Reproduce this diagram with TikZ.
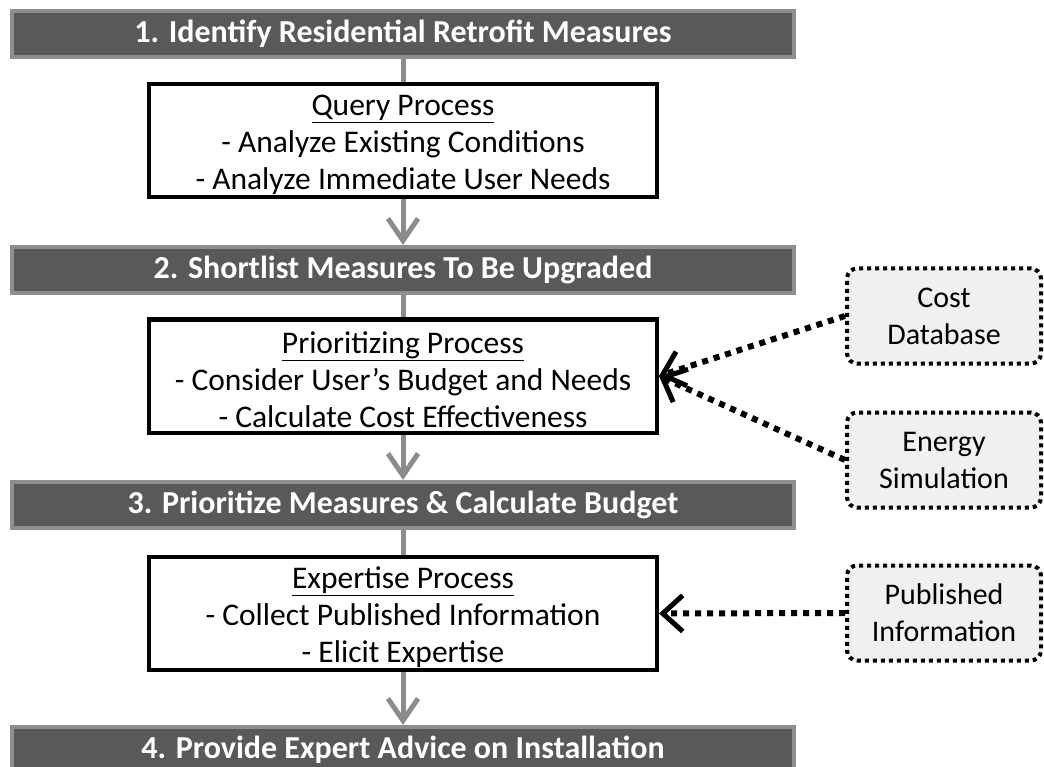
\documentclass[tikz,border=0pt]{standalone}
\usepackage{fontspec}
\setmainfont{Carlito}
\usetikzlibrary{arrows.meta}
\definecolor{barfill}{HTML}{595959}
\definecolor{barline}{HTML}{8E8E8E}
\definecolor{flowgray}{HTML}{8C8C8C}
\definecolor{srcfill}{HTML}{F0F0F0}
\newcommand{\proctitle}[1]{\rule{0pt}{29pt}\underline{#1}}
\begin{document}
\begin{tikzpicture}[x=1pt,y=-1pt,
  stagebar/.style={fill=barfill, draw=barline, line width=4pt, minimum width=782pt, minimum height=46pt,
    inner sep=0pt, text=white, font=\fontsize{32}{36}\selectfont\bfseries},
  procbox/.style={fill=white, draw=black, line width=4pt, minimum width=508pt, minimum height=113pt,
    inner sep=0pt, align=center, font=\fontsize{31.5}{37}\selectfont},
  srcbox/.style={fill=srcfill, draw=black, line width=4pt, dash pattern=on 4pt off 4pt, rounded corners=10pt,
    minimum width=194pt, minimum height=95pt, inner sep=0pt, align=center, font=\fontsize{30}{37}\selectfont},
  flowline/.style={draw=flowgray, line width=5pt},
  flowarrow/.style={draw=flowgray, line width=5pt, -{Straight Barb[length=22pt, width=30pt, line width=5pt]}},
  dotarrow/.style={draw=black, line width=6pt, dash pattern=on 6pt off 6pt, -{Straight Barb[length=20pt, width=36pt, line width=5pt]}}
]
\useasboundingbox (0,0) rectangle (1044,767);

% stage bars
\node[stagebar] (b1) at (403,34) {1. Identify Residential Retrofit Measures};
\node[stagebar] (b2) at (403,270) {2. Shortlist Measures To Be Upgraded};
\node[stagebar] (b3) at (403,505) {3. Prioritize Measures \& Calculate Budget};
\node[stagebar] (b4) at (403,750) {4. Provide Expert Advice on Installation};

% process boxes
\node[procbox] (q) at (403,140.5) {\proctitle{Query Process}\\- Analyze Existing Conditions\\- Analyze Immediate User Needs};
\node[procbox] (p) at (403,376) {\proctitle{Prioritizing Process}\\- Consider User’s Budget and Needs\\- Calculate Cost Effectiveness};
\node[procbox] (e) at (403,613.5) {\proctitle{Expertise Process}\\- Collect Published Information\\- Elicit Expertise};

% source boxes
\node[srcbox] (cost) at (944,316) {Cost\\Database};
\node[srcbox] (sim) at (944,460) {Energy\\Simulation};
\node[srcbox] (pub) at (944,613) {Published\\Information};

% flow connectors
\draw[flowline] (b1) -- (q);
\draw[flowarrow] (q) -- (b2);
\draw[flowline] (b2) -- (p);
\draw[flowarrow] (p) -- (b3);
\draw[flowline] (b3) -- (e);
\draw[flowarrow] (e) -- (b4);

% data inputs
\draw[dotarrow] (cost.west) -- (p.east);
\draw[dotarrow] (sim.west) -- (p.east);
\draw[dotarrow] (pub.west) -- (e.east);
\end{tikzpicture}
\end{document}
